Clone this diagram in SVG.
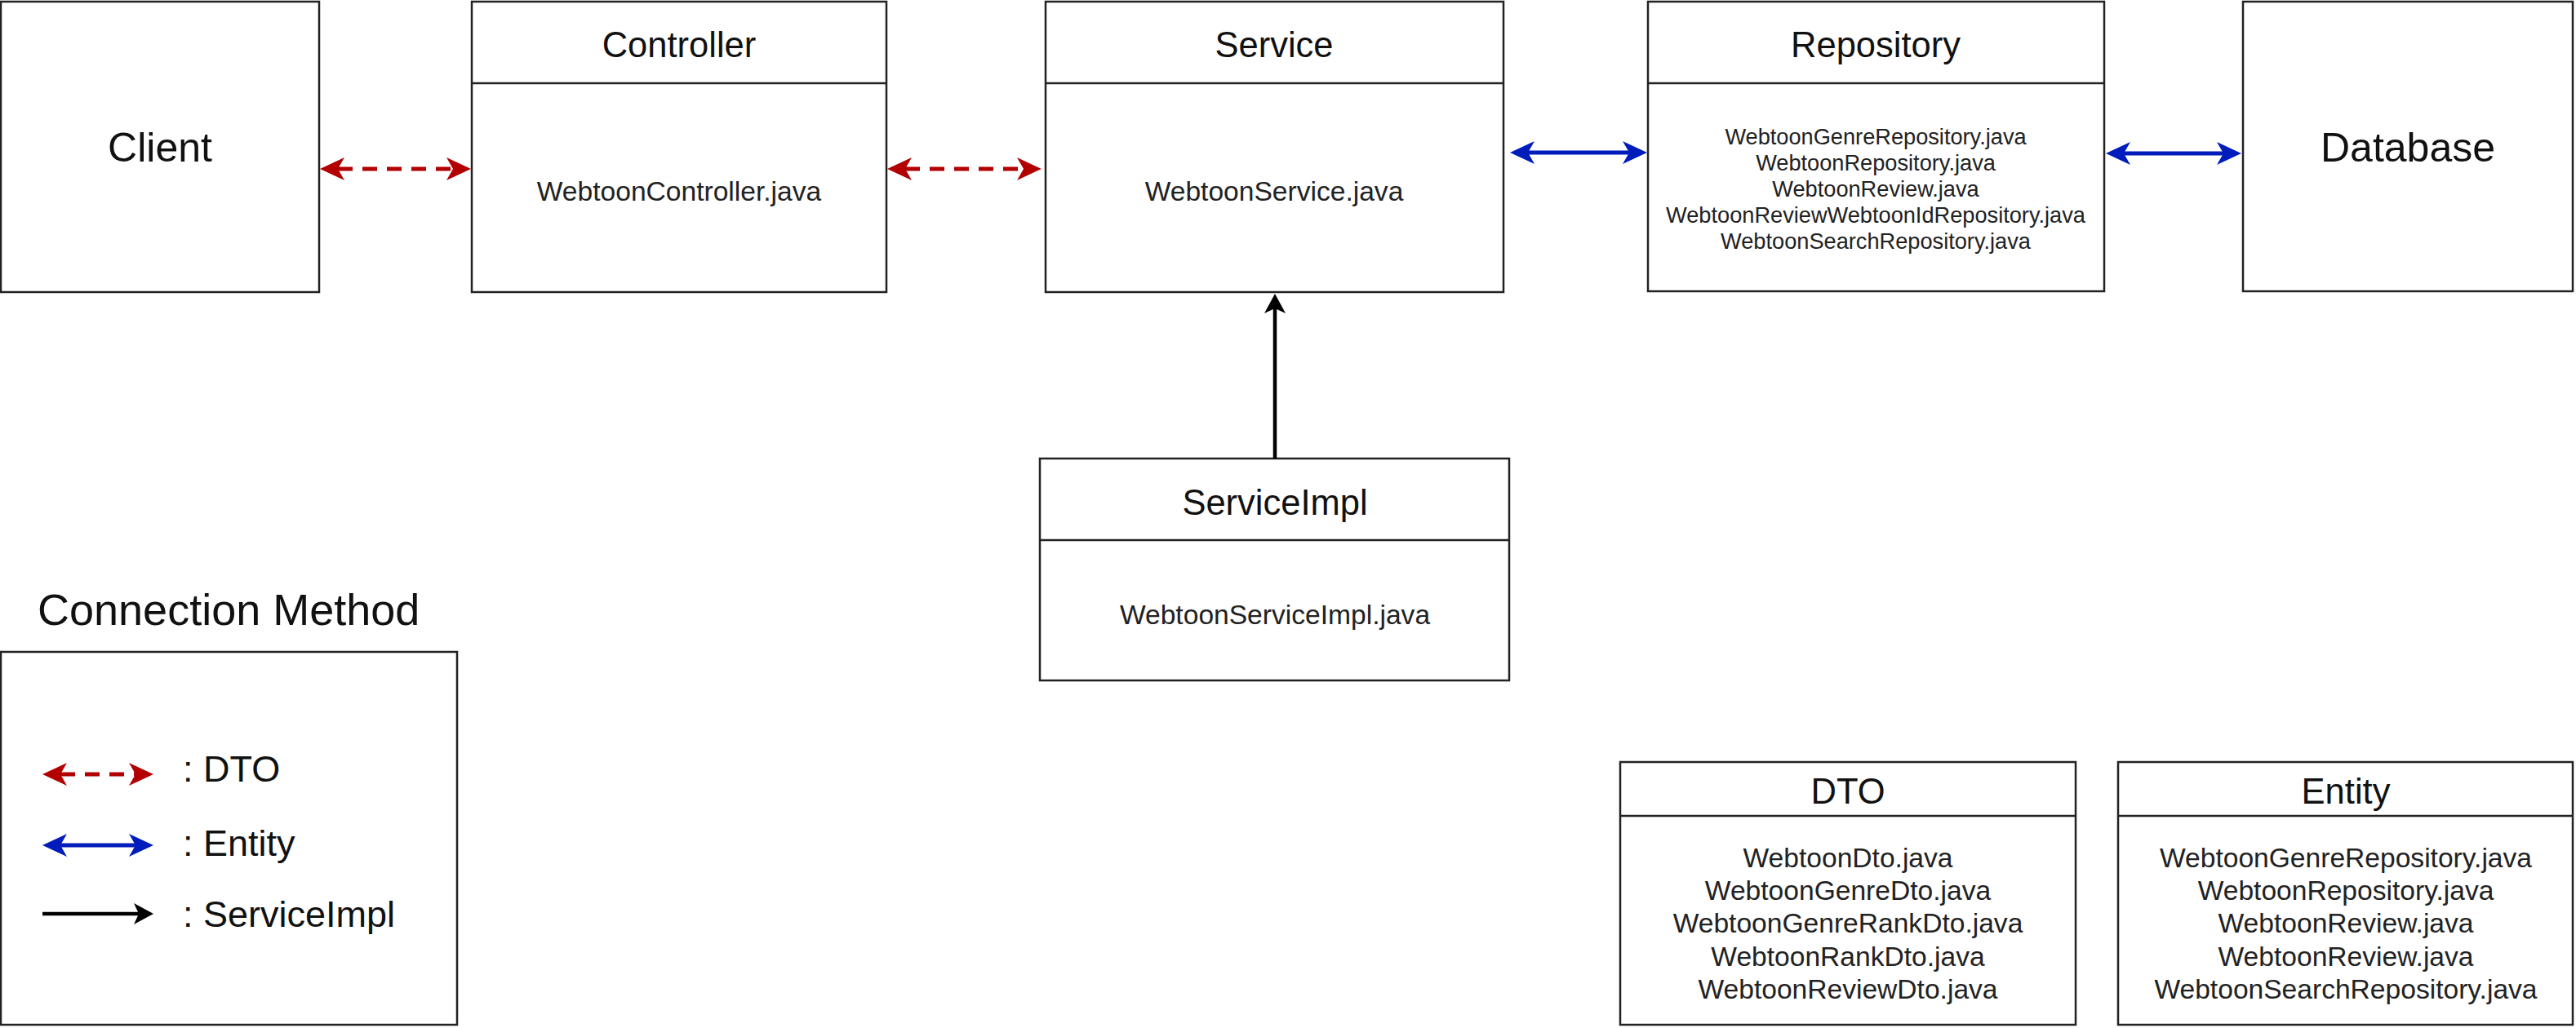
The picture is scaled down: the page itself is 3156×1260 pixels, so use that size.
<svg xmlns="http://www.w3.org/2000/svg" width="3156" height="1260" viewBox="0 0 3156 1260">
<defs>
<style>
.box{fill:#fff;stroke:#222;stroke-width:2.5}
.div{stroke:#222;stroke-width:2.5}
text{font-family:"Liberation Sans",Arial,Helvetica,sans-serif;fill:#111;text-anchor:middle}
.big{font-size:50px}
.hdr{font-size:43.5px}
.body{font-size:33.6px;fill:#222}
.small{font-size:27.2px;fill:#222}
.leg{font-size:45px;text-anchor:start}
.title{font-size:54px;text-anchor:start}
.dto{stroke:#B20000;stroke-width:5;stroke-dasharray:18 12;fill:none}
.ent{stroke:#001DBC;stroke-width:5;fill:none}
.impl{stroke:#000;stroke-width:4.5;fill:none}
</style>
<marker id="mRed" markerUnits="userSpaceOnUse" markerWidth="30" markerHeight="28" viewBox="0 0 30 28" refX="8" refY="14" orient="auto-start-reverse"><path d="M0,0 L30,14 L0,28 L8,14 Z" fill="#B20000"/></marker>
<marker id="mBlue" markerUnits="userSpaceOnUse" markerWidth="30" markerHeight="28" viewBox="0 0 30 28" refX="8" refY="14" orient="auto-start-reverse"><path d="M0,0 L30,14 L0,28 L8,14 Z" fill="#001DBC"/></marker>
<marker id="mBlack" markerUnits="userSpaceOnUse" markerWidth="24" markerHeight="26" viewBox="0 0 24 26" refX="6" refY="13" orient="auto-start-reverse"><path d="M0,0 L24,13 L0,26 L6,13 Z" fill="#000"/></marker>
</defs>
<rect width="3156" height="1260" fill="#fff"/>

<g id="client">
<rect class="box" x="1" y="2" width="390" height="356"/>
<text class="big" x="196" y="198">Client</text>
</g>

<g id="controller">
<rect class="box" x="578" y="2" width="508" height="356"/>
<line class="div" x1="578" y1="102" x2="1086" y2="102"/>
<text class="hdr" x="832" y="70">Controller</text>
<text class="body" x="832" y="246">WebtoonController.java</text>
</g>

<g id="service">
<rect class="box" x="1281" y="2" width="561" height="356"/>
<line class="div" x1="1281" y1="102" x2="1842" y2="102"/>
<text class="hdr" x="1561" y="70">Service</text>
<text class="body" x="1561" y="246">WebtoonService.java</text>
</g>

<g id="repository">
<rect class="box" x="2019" y="2" width="559" height="355"/>
<line class="div" x1="2019" y1="102" x2="2578" y2="102"/>
<text class="hdr" x="2298" y="70">Repository</text>
<text class="small" x="2298" y="177">WebtoonGenreRepository.java</text>
<text class="small" x="2298" y="209">WebtoonRepository.java</text>
<text class="small" x="2298" y="241">WebtoonReview.java</text>
<text class="small" x="2298" y="273">WebtoonReviewWebtoonIdRepository.java</text>
<text class="small" x="2298" y="305">WebtoonSearchRepository.java</text>
</g>

<g id="database">
<rect class="box" x="2748" y="2" width="404" height="355"/>
<text class="big" x="2950" y="198">Database</text>
</g>

<g id="serviceimpl">
<rect class="box" x="1274" y="562" width="575" height="272"/>
<line class="div" x1="1274" y1="662" x2="1849" y2="662"/>
<text class="hdr" x="1562" y="631">ServiceImpl</text>
<text class="body" x="1562" y="765">WebtoonServiceImpl.java</text>
</g>

<g id="legend">
<text class="title" x="46" y="766">Connection Method</text>
<rect class="box" x="1" y="799" width="559" height="457"/>
<line class="dto" x1="74" y1="949" x2="166" y2="949" stroke-dasharray="16 12" marker-start="url(#mRed)" marker-end="url(#mRed)"/>
<text class="leg" x="224" y="958">: DTO</text>
<line class="ent" x1="74" y1="1036" x2="166" y2="1036" marker-start="url(#mBlue)" marker-end="url(#mBlue)"/>
<text class="leg" x="224" y="1049">: Entity</text>
<line class="impl" x1="52" y1="1120" x2="170" y2="1120" marker-end="url(#mBlack)"/>
<text class="leg" x="224" y="1136">: ServiceImpl</text>
</g>

<g id="dto">
<rect class="box" x="1985" y="934" width="558" height="322"/>
<line class="div" x1="1985" y1="1000" x2="2543" y2="1000"/>
<text class="hdr" x="2264" y="985">DTO</text>
<text class="body" x="2264" y="1063">WebtoonDto.java</text>
<text class="body" x="2264" y="1103">WebtoonGenreDto.java</text>
<text class="body" x="2264" y="1143">WebtoonGenreRankDto.java</text>
<text class="body" x="2264" y="1184">WebtoonRankDto.java</text>
<text class="body" x="2264" y="1224">WebtoonReviewDto.java</text>
</g>

<g id="entity">
<rect class="box" x="2595" y="934" width="557" height="322"/>
<line class="div" x1="2595" y1="1000" x2="3152" y2="1000"/>
<text class="hdr" x="2874" y="985">Entity</text>
<text class="body" x="2874" y="1063">WebtoonGenreRepository.java</text>
<text class="body" x="2874" y="1103">WebtoonRepository.java</text>
<text class="body" x="2874" y="1143">WebtoonReview.java</text>
<text class="body" x="2874" y="1184">WebtoonReview.java</text>
<text class="body" x="2874" y="1224">WebtoonSearchRepository.java</text>
</g>

<g id="connectors">
<line class="dto" x1="414" y1="207" x2="555" y2="207" marker-start="url(#mRed)" marker-end="url(#mRed)"/>
<line class="dto" x1="1109" y1="207" x2="1254" y2="207" marker-start="url(#mRed)" marker-end="url(#mRed)"/>
<line class="ent" x1="1872" y1="187" x2="1996" y2="187" marker-start="url(#mBlue)" marker-end="url(#mBlue)"/>
<line class="ent" x1="2602" y1="188" x2="2724" y2="188" marker-start="url(#mBlue)" marker-end="url(#mBlue)"/>
<line class="impl" x1="1562" y1="562" x2="1562" y2="378" marker-end="url(#mBlack)"/>
</g>
</svg>
